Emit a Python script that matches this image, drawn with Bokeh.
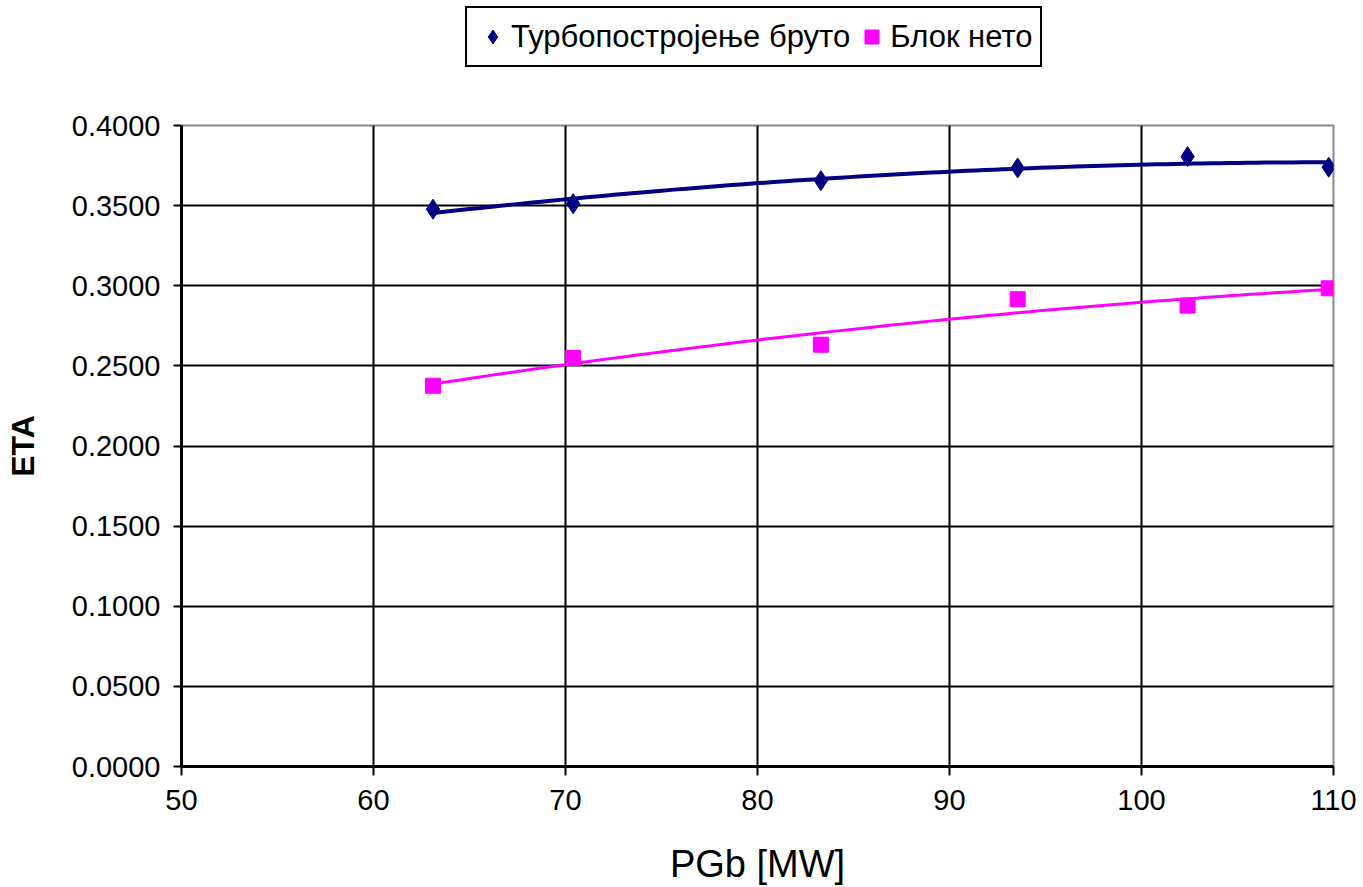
import numpy as np
from bokeh.plotting import figure
from bokeh.layouts import column
from bokeh.models import Range1d, Legend, LegendItem, NumeralTickFormatter, FixedTicker
from bokeh.embed import file_html
from bokeh.resources import INLINE

# Data
pgb = [63.1, 70.4, 83.3, 93.55, 102.4, 109.75]
eta_turbo_bruto = [0.3478, 0.3512, 0.3656, 0.3735, 0.3806, 0.3740]
eta_blok_neto = [0.2376, 0.2550, 0.2632, 0.2916, 0.2876, 0.2984]

x_ticks = [50, 60, 70, 80, 90, 100, 110]
y_ticks = [0.0, 0.05, 0.10, 0.15, 0.20, 0.25, 0.30, 0.35, 0.40]

label_turbo = "Турбопостројење бруто"
label_blok = "Блок нето"
x_label = "PGb [MW]"
y_label = "ETA"

NAVY = "#000080"
MAGENTA = "#FF00FF"
FONT = "Liberation Sans"

TOP_H = 105

# ---- main chart ----
p = figure(width=1363, height=887 - TOP_H,
           min_border_left=181, min_border_right=30,
           min_border_top=20, min_border_bottom=119,
           x_range=Range1d(50, 110), y_range=Range1d(0, 0.4),
           output_backend="svg", toolbar_location=None,
           background_fill_color="white", border_fill_color="white")

# polynomial (2nd order) trend lines fitted to the data
xs = np.array(pgb)
xfit = np.linspace(xs.min(), xs.max(), 100)
c1 = np.polyfit(xs, np.array(eta_turbo_bruto), 2)
c2 = np.polyfit(xs, np.array(eta_blok_neto), 2)
p.line(xfit, np.polyval(c1, xfit), line_color=NAVY, line_width=4)
p.line(xfit, np.polyval(c2, xfit), line_color=MAGENTA, line_width=3)

p.scatter(pgb, eta_turbo_bruto, marker="diamond", size=20,
          fill_color=NAVY, line_color=NAVY)
p.scatter(pgb, eta_blok_neto, marker="square", size=15,
          fill_color=MAGENTA, line_color=MAGENTA)

for ax in (p.xaxis[0], p.yaxis[0]):
    ax.axis_line_color = "black"
    ax.axis_line_width = 3
    ax.major_tick_line_color = "black"
    ax.major_tick_line_width = 2
    ax.minor_tick_line_color = None
    ax.major_tick_in = 0
    ax.major_label_text_font = FONT
    ax.major_label_text_color = "black"
    ax.major_label_text_font_size = "29px"
    ax.axis_label_text_font = FONT
    ax.axis_label_text_color = "black"
    ax.axis_label_text_font_style = "normal"

p.xaxis.ticker = FixedTicker(ticks=x_ticks)
p.yaxis.ticker = FixedTicker(ticks=y_ticks)
p.yaxis.formatter = NumeralTickFormatter(format="0.0000")
p.xaxis.major_tick_out = 9
p.yaxis.major_tick_out = 8
p.xaxis.major_label_standoff = 14
p.yaxis.major_label_standoff = 13
p.xaxis.axis_label = x_label
p.yaxis.axis_label = y_label
p.xaxis.axis_label_text_font_size = "38px"
p.yaxis.axis_label_text_font_size = "32px"
p.yaxis.axis_label_text_font_style = "bold"
p.xaxis.axis_label_standoff = 30
p.yaxis.axis_label_standoff = 28

p.xgrid.grid_line_color = "black"
p.xgrid.grid_line_width = 2
p.ygrid.grid_line_color = "black"
p.ygrid.grid_line_width = 2
p.outline_line_color = "#888888"
p.outline_line_width = 2

# ---- legend strip above the chart ----
top = figure(width=1363, height=TOP_H, x_range=Range1d(0, 1), y_range=Range1d(0, 1),
             min_border=0, x_axis_location=None, y_axis_location=None,
             output_backend="svg", toolbar_location=None,
             background_fill_color="white", border_fill_color="white")
top.outline_line_color = None
top.xgrid.visible = False
top.ygrid.visible = False
# legend key glyphs (placed outside the visible range)
k1 = top.scatter([-5], [-5], marker="diamond", size=20, fill_color=NAVY, line_color=NAVY)
k2 = top.scatter([-5], [-5], marker="square", size=15, fill_color=MAGENTA, line_color=MAGENTA)

legend = Legend(items=[LegendItem(label=label_turbo, renderers=[k1]),
                       LegendItem(label=label_blok, renderers=[k2])],
                orientation="horizontal", location=(284, TOP_H - 67),
                label_text_font=FONT, label_text_font_size="31px",
                label_text_color="black", label_height=41,
                glyph_width=35, glyph_height=35, label_standoff=1,
                spacing=4, padding=8, margin=0,
                border_line_color="black", border_line_width=2,
                border_line_alpha=1.0,
                background_fill_color="white", background_fill_alpha=1)
top.add_layout(legend, "center")

layout = column(top, p, spacing=0)
open("out.html", "w").write(file_html(layout, INLINE))
